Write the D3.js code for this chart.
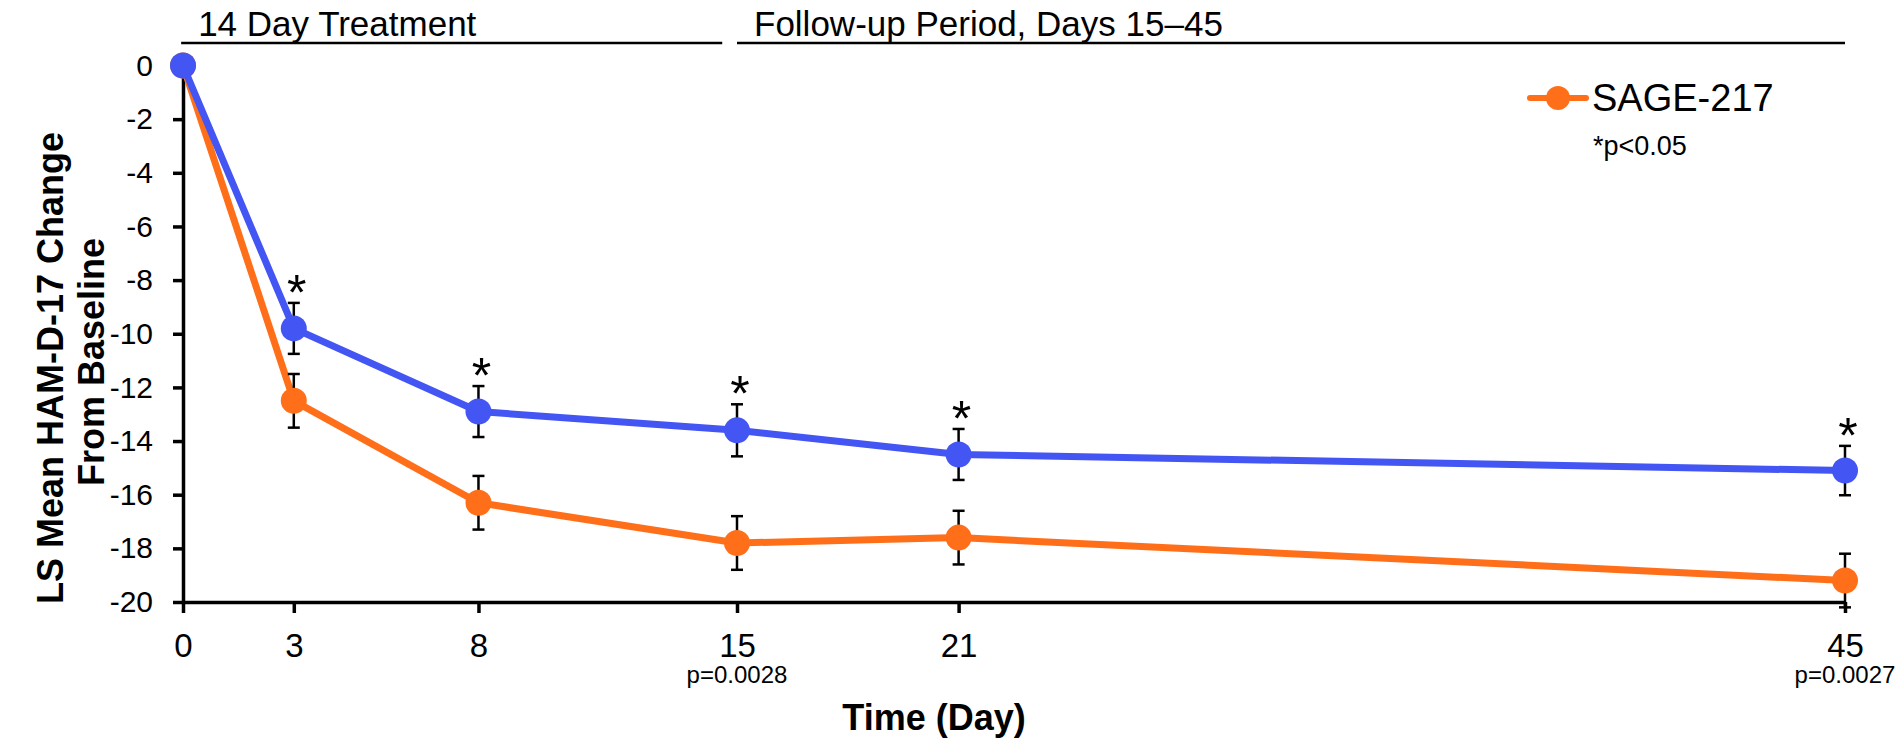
<!DOCTYPE html>
<html>
<head>
<meta charset="utf-8">
<script src="https://cdn.jsdelivr.net/npm/d3@7"></script>
<style>
  html, body { margin: 0; padding: 0; background: #fff; }
  svg { display: block; font-family: "Liberation Sans", Arial, sans-serif; }
</style>
</head>
<body>
<div id="chart"></div>
<script>
// data
const days = [0, 3, 8, 15, 21, 45]
const placebo = [0, -9.8, -12.9, -13.6, -14.5, -15.1]
const placeboErr = [0, 0.95, 0.95, 0.97, 0.95, 0.92]
const sage = [0, -12.5, -16.3, -17.8, -17.6, -19.2]
const sageErr = [0, 1.0, 1.0, 1.0, 1.0, 1.0]
const starDays = [3, 8, 15, 21, 45]
const yTicks = [0, -2, -4, -6, -8, -10, -12, -14, -16, -18, -20]
const pNotes = [{day: 15, text: "p=0.0028"}, {day: 45, text: "p=0.0027"}]
const periods = [
  {from: -0.05, to: 14.6, label: "14 Day Treatment"},
  {from: 15, to: 45, label: "Follow-up Period, Days 15\u201345"}
]

const width = 1895, height = 739
const blue = "#4355f2", orange = "#ff6f1a"

const x = d3.scaleLinear().domain([0, 45]).range([183, 1845])
const y = d3.scaleLinear().domain([-20, 0]).range([602, 65.5])

const svg = d3.select("#chart").append("svg")
    .attr("width", width)
    .attr("height", height)

// axes
svg.append("g")
    .attr("transform", `translate(${x(0)},0)`)
    .call(d3.axisLeft(y).tickValues(yTicks).tickSize(10).tickSizeOuter(0).tickPadding(20)
      .tickFormat(d => d == 0 ? "0" : d3.format("d")(d).replace("\u2212", "-")))
    .call(g => g.selectAll("line, path").attr("stroke", "#000").attr("stroke-width", 3.5))
    .call(g => g.selectAll("text").attr("font-size", 30).attr("fill", "#000").attr("font-family", null))

svg.append("g")
    .attr("transform", `translate(0,${y(-20)})`)
    .call(d3.axisBottom(x).tickValues(days).tickSize(11).tickSizeOuter(0).tickPadding(21))
    .call(g => g.selectAll("line, path").attr("stroke", "#000").attr("stroke-width", 3.5))
    .call(g => g.selectAll("text").attr("font-size", 33).attr("fill", "#000").attr("font-family", null))

svg.append("g")
  .selectAll("text")
  .data(pNotes)
  .join("text")
    .attr("x", d => x(d.day))
    .attr("y", 683)
    .attr("text-anchor", "middle")
    .attr("font-size", 24)
    .text(d => d.text)

// axis titles
svg.append("text")
    .attr("x", (x(0) + x(45)) / 2 - 80)
    .attr("y", 730)
    .attr("text-anchor", "middle")
    .attr("font-size", 36)
    .attr("font-weight", "bold")
    .text("Time (Day)")

const yl = svg.append("text")
    .attr("transform", "translate(63,368) rotate(-90)")
    .attr("text-anchor", "middle")
    .attr("font-size", 36)
    .attr("font-weight", "bold")
yl.append("tspan").attr("x", 0).attr("dy", 0).text("LS Mean HAM-D-17 Change")
yl.append("tspan").attr("x", 6).attr("dy", 41).text("From Baseline")

// period brackets on top
const per = svg.append("g").selectAll("g").data(periods).join("g")
per.append("line")
    .attr("x1", d => x(d.from)).attr("x2", d => x(d.to))
    .attr("y1", 43).attr("y2", 43)
    .attr("stroke", "#000").attr("stroke-width", 2.5)
per.append("text")
    .attr("x", d => x(d.from) + 17)
    .attr("y", 36)
    .attr("font-size", 35)
    .text(d => d.label)

// series
const line = d3.line().x(d => x(d.day)).y(d => y(d.v))

function drawSeries(vals, errs, color) {
  const pts = days.map((d, i) => ({day: d, v: vals[i], e: errs[i]}))
  const g = svg.append("g")
  g.append("path")
      .datum(pts)
      .attr("d", line)
      .attr("fill", "none")
      .attr("stroke", color)
      .attr("stroke-width", 7)
      .attr("stroke-linejoin", "round")
  const eb = g.append("g").attr("stroke", "#000").attr("stroke-width", 2.5)
    .selectAll("g").data(pts.filter(d => d.e > 0)).join("g")
  eb.append("line")
      .attr("x1", d => x(d.day)).attr("x2", d => x(d.day))
      .attr("y1", d => y(d.v + d.e)).attr("y2", d => y(d.v - d.e))
  eb.append("line")
      .attr("x1", d => x(d.day) - 6).attr("x2", d => x(d.day) + 6)
      .attr("y1", d => y(d.v + d.e)).attr("y2", d => y(d.v + d.e))
  eb.append("line")
      .attr("x1", d => x(d.day) - 6).attr("x2", d => x(d.day) + 6)
      .attr("y1", d => y(d.v - d.e)).attr("y2", d => y(d.v - d.e))
  g.append("g").selectAll("circle").data(pts).join("circle")
      .attr("cx", d => x(d.day))
      .attr("cy", d => y(d.v))
      .attr("r", 13)
      .attr("fill", color)
  return pts
}

drawSeries(sage, sageErr, orange)
const bluePts = drawSeries(placebo, placeboErr, blue)

// significance stars above placebo error bars
svg.append("g").selectAll("text")
  .data(bluePts.filter(d => starDays.includes(d.day)))
  .join("text")
    .attr("x", d => x(d.day) + 3)
    .attr("y", d => y(d.v + d.e) + 7)
    .attr("text-anchor", "middle")
    .attr("font-size", 50)
    .text("*")

// legend
const lg = svg.append("g").attr("transform", "translate(1530,98)")
lg.append("line")
    .attr("x1", 0).attr("x2", 56)
    .attr("stroke", orange).attr("stroke-width", 6).attr("stroke-linecap", "round")
lg.append("circle").attr("cx", 28).attr("r", 12).attr("fill", orange)
lg.append("text").attr("x", 62).attr("y", 12.5).attr("font-size", 38).text("SAGE-217")
lg.append("text").attr("x", 63).attr("y", 57).attr("font-size", 27).text("*p<0.05")
</script>
</body>
</html>
